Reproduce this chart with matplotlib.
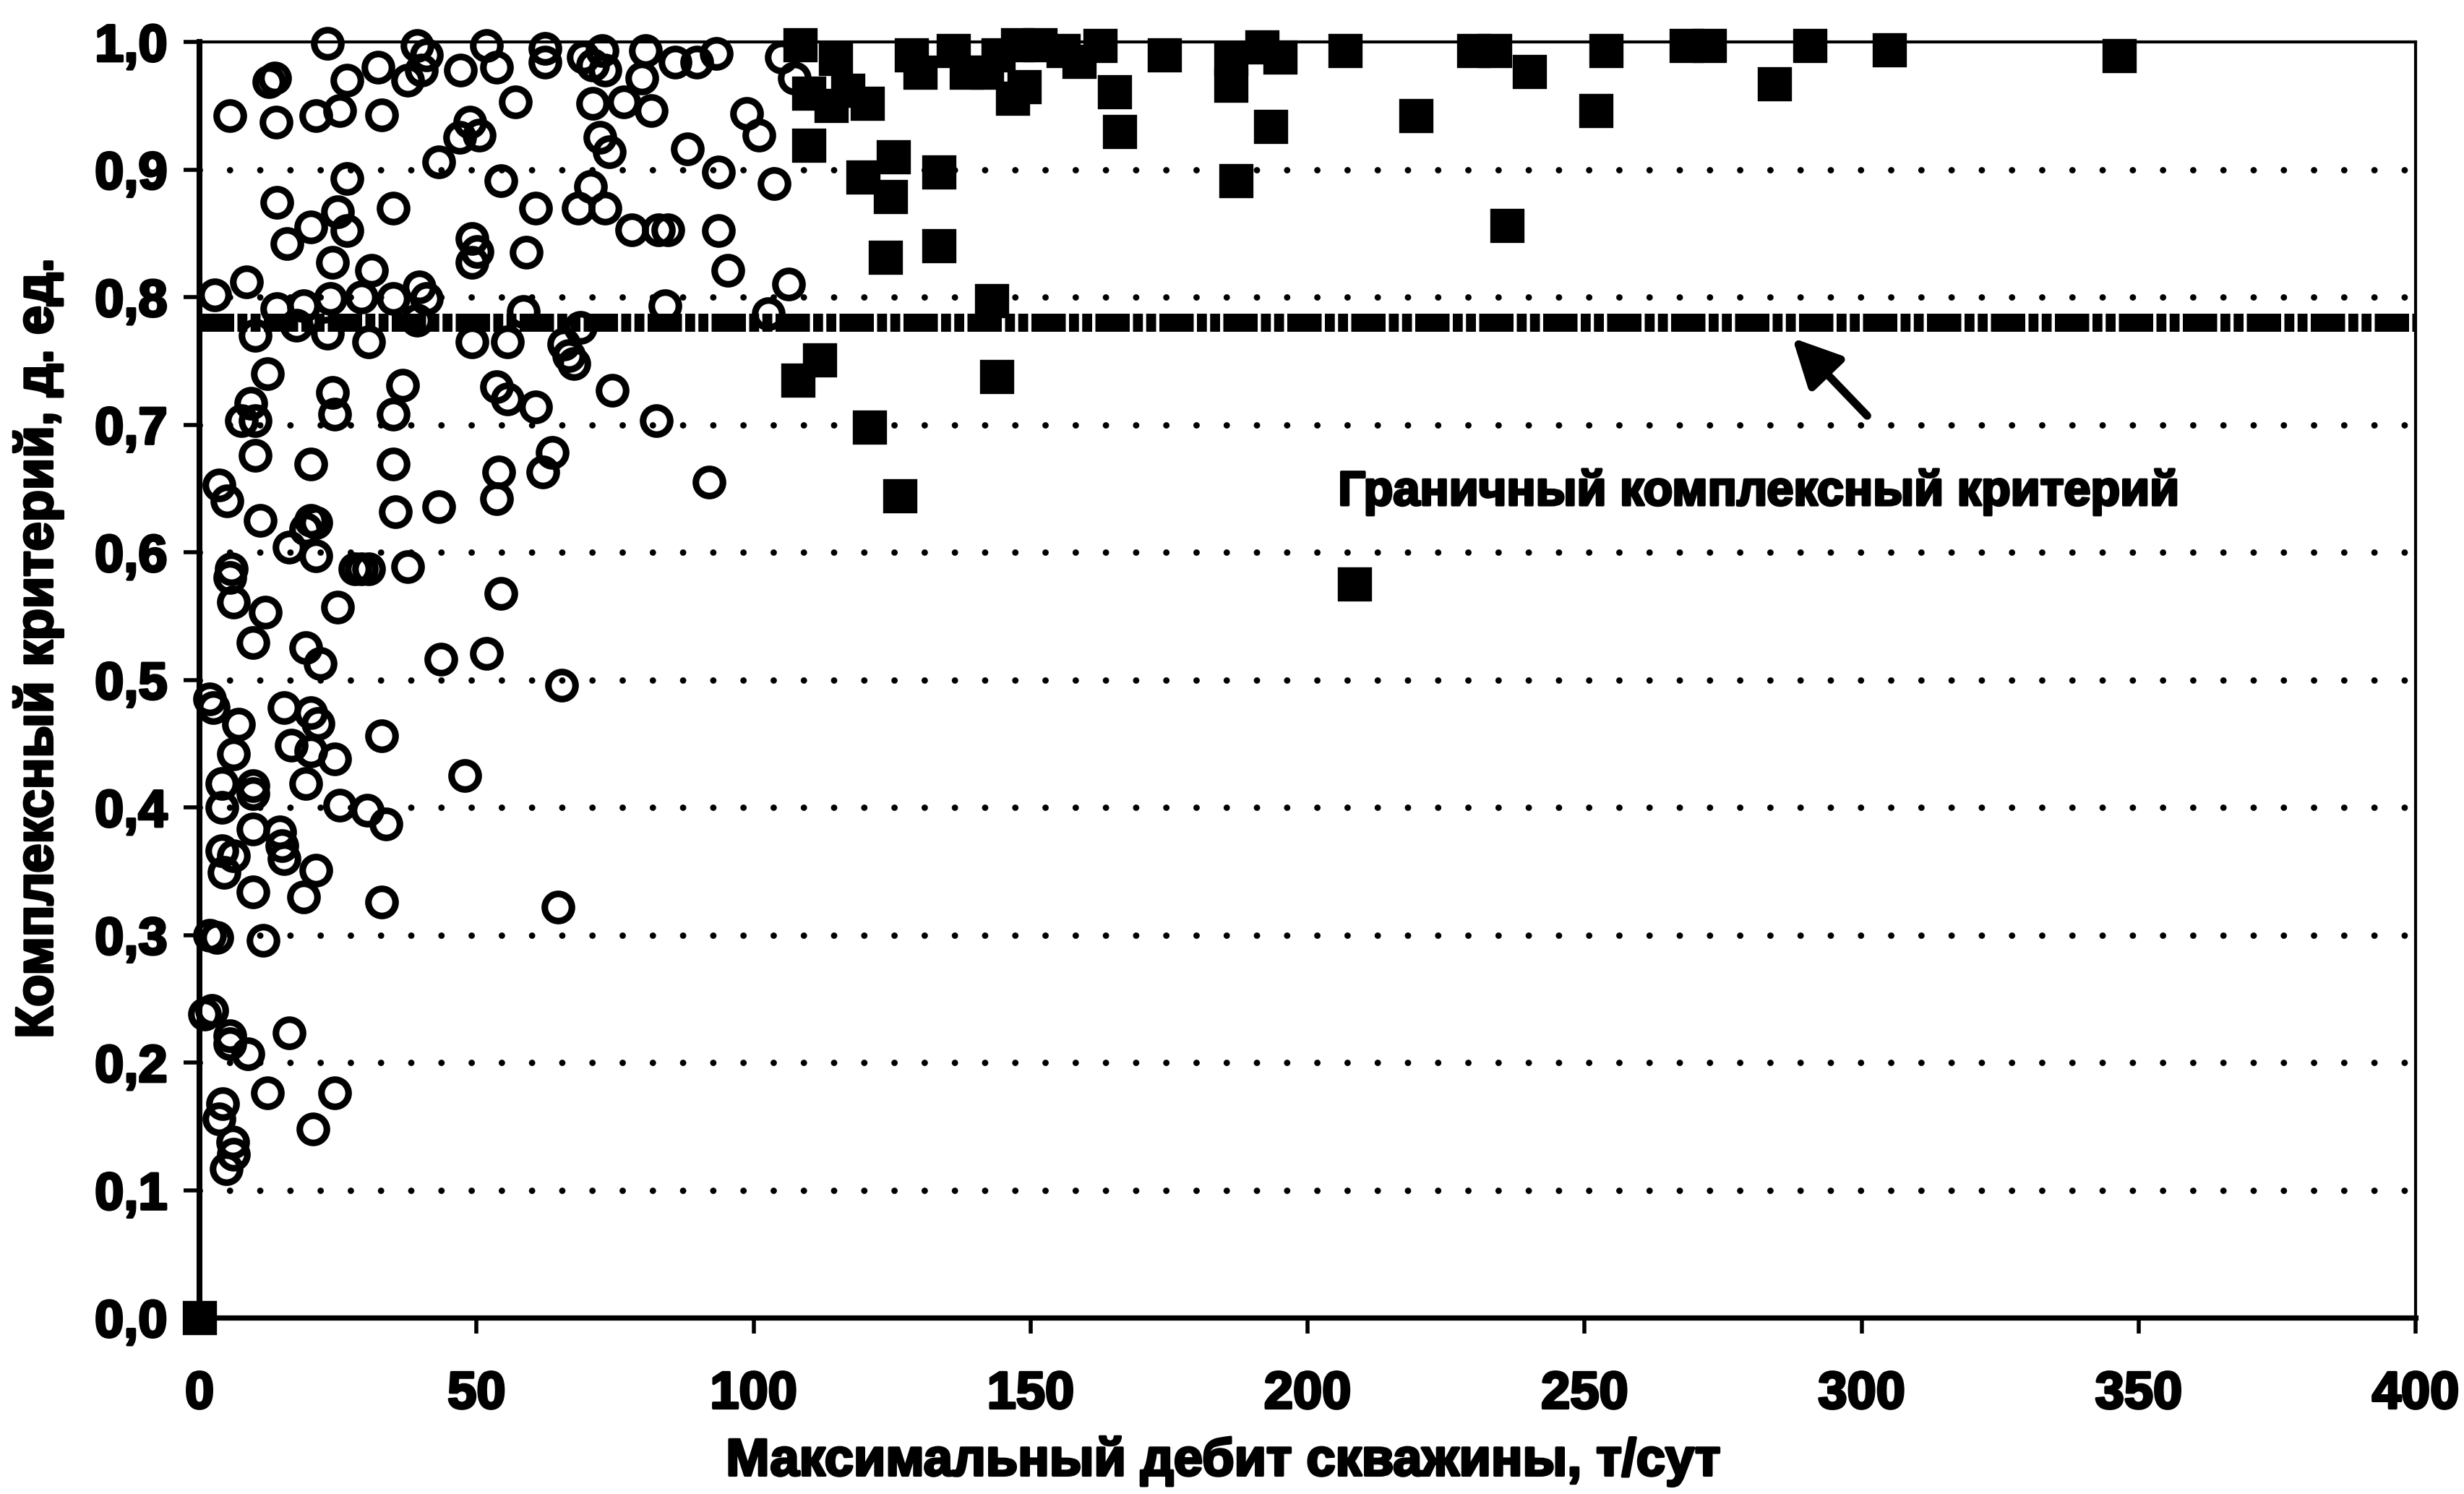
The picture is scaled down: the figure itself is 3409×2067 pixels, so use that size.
import matplotlib
matplotlib.use("Agg")
import matplotlib.pyplot as plt
import matplotlib.patheffects as pe

plt.rcParams['font.family'] = ['Liberation Sans', 'DejaVu Sans']
plt.rcParams['font.weight'] = 'bold'

# circles: wells below / around the boundary (max rate, criterion)
circle_x = [23.1, 26.6, 32.2, 39.3, 37.5, 41, 40, 47.1, 51.8, 53.6, 12.5, 13.6, 5.5, 13.8, 21,
            25.3, 32.9, 48.8, 50.5, 47, 43.2, 26.6, 14, 34.9, 24.9, 20.1, 26.6, 15.8, 49.2,
            50.1, 49.2, 24, 31, 8.4, 2.7, 14, 18.8, 23.6, 29.2, 34.9, 39.7, 41, 39.3, 10, 17.5,
            23.1, 30.5, 49.2, 55.5,
            62.3, 62.3, 69.3, 72.7, 73.2, 71, 80.5, 79.8, 85.8, 89.7, 93.2, 57, 71, 76.6, 81.5,
            98.8, 101, 72.3, 74, 88, 93.6, 103.7, 54.4, 60.6, 70.6, 68.4, 73.2, 78, 82.8, 84.5,
            93.6, 58.9, 95.4, 106.3, 84, 58.4, 102.7, 68.8, 65.8, 105, 107.4,
            12.3, 24, 24.4, 36.7, 34.9, 9.3, 7.5, 10, 53.6, 55.5, 10, 20.1, 34.9, 54, 3.5, 4.9,
            11, 20.1, 21, 19.2, 35.4, 43.2, 53.6, 16.2, 21, 28, 29.2, 30.5, 37.5, 5.7, 5.4, 6.1,
            11.9, 24.9, 54.4, 9.7, 19.2, 21.8, 43.6, 51.8,
            66.7, 67.5, 74.5, 82.4, 60.6, 63.6, 61.9, 91.9, 65.4,
            1.8, 2.5, 7, 6.1, 15.3, 20.1, 21.4, 16.6, 20.1, 24.4, 19.2, 32.8, 47.9, 4, 9.7, 9.7,
            4, 25.3, 30.2, 33.6, 9.7, 14.5, 14.9, 15.3, 4, 6.1, 4.4, 21, 9.7, 18.8, 32.8, 1.8,
            3.1, 11.4, 64.7,
            2.2, 0.9, 5.4, 5.4, 8.7, 16.2, 12.3, 24.4, 20.5, 4.2, 3.5, 6, 6.1, 4.8]
circle_y = [0.999, 0.97, 0.98, 0.997, 0.97, 0.99, 0.978, 0.978, 0.997, 0.98, 0.969, 0.972, 0.942,
            0.937, 0.942, 0.946, 0.943, 0.937, 0.927, 0.925, 0.906, 0.893, 0.874, 0.87, 0.867,
            0.855, 0.852, 0.842, 0.846, 0.836, 0.827, 0.827, 0.821, 0.812, 0.802, 0.791, 0.793,
            0.799, 0.8, 0.799, 0.808, 0.799, 0.782, 0.77, 0.778, 0.772, 0.765, 0.765, 0.765,
            0.995, 0.984, 0.988, 0.993, 0.978, 0.982, 0.993, 0.972, 0.984, 0.984, 0.991, 0.953,
            0.952, 0.953, 0.946, 0.944, 0.927, 0.925, 0.914, 0.916, 0.898, 0.889, 0.891, 0.87,
            0.887, 0.87, 0.87, 0.853, 0.853, 0.853, 0.852, 0.835, 0.821, 0.81, 0.793, 0.789,
            0.787, 0.776, 0.763, 0.988, 0.972,
            0.74, 0.725, 0.708, 0.731, 0.708, 0.717, 0.703, 0.703, 0.73, 0.72, 0.676, 0.669,
            0.669, 0.663, 0.653, 0.64, 0.625, 0.625, 0.623, 0.618, 0.632, 0.636, 0.642, 0.604,
            0.597, 0.587, 0.587, 0.587, 0.589, 0.587, 0.58, 0.561, 0.553, 0.557, 0.568, 0.529,
            0.525, 0.513, 0.516, 0.521,
            0.754, 0.748, 0.727, 0.703, 0.714, 0.678, 0.663, 0.655, 0.496,
            0.485, 0.478, 0.465, 0.442, 0.478, 0.474, 0.466, 0.449, 0.444, 0.438, 0.419, 0.456,
            0.425, 0.419, 0.417, 0.411, 0.4, 0.402, 0.398, 0.387, 0.383, 0.381, 0.37, 0.36,
            0.366, 0.362, 0.349, 0.351, 0.334, 0.33, 0.326, 0.3, 0.298, 0.296, 0.322,
            0.241, 0.238, 0.221, 0.215, 0.207, 0.223, 0.176, 0.176, 0.148, 0.168, 0.156, 0.138,
            0.128, 0.117]

# squares: high-rate wells
square_x = [0, 108.4, 114.8, 110, 114, 117, 120.5, 110, 125.2, 119.7, 124.7, 133.4, 123.8, 133.4,
            143, 111.9, 108, 143.9, 120.9, 126.4, 128.5, 130, 136, 138.4, 142, 146.8, 144.1,
            147.7, 151.7, 155.9, 162.5, 148.8, 158.8, 165.2, 166, 174.2, 186.2, 186.2, 187,
            191.8, 195, 193.3, 206.7, 219.6, 236, 230, 233.8, 240, 253.8, 252, 268.3, 272.5,
            284.2, 290.7, 305, 346.5, 208.4]
square_y = [0, 0.998, 0.987, 0.96, 0.95, 0.962, 0.952, 0.919, 0.91, 0.894, 0.879, 0.898, 0.831,
            0.84, 0.797, 0.751, 0.735, 0.738, 0.698, 0.644, 0.99, 0.976, 0.993, 0.976, 0.976,
            0.956, 0.99, 0.998, 0.998, 0.993, 0.997, 0.965, 0.985, 0.961, 0.93, 0.99, 0.987,
            0.966, 0.891, 0.996, 0.988, 0.934, 0.993, 0.942, 0.856, 0.993, 0.993, 0.977, 0.993,
            0.946, 0.997, 0.997, 0.967, 0.997, 0.994, 0.989, 0.575]

threshold = 0.78
grid_levels = [0.1, 0.2, 0.3, 0.4, 0.5, 0.6, 0.7, 0.8, 0.9]
x_ticks = [0, 50, 100, 150, 200, 250, 300, 350, 400]
y_ticks = [0, 0.1, 0.2, 0.3, 0.4, 0.5, 0.6, 0.7, 0.8, 0.9, 1.0]
y_tick_labels = ['0,0', '0,1', '0,2', '0,3', '0,4', '0,5', '0,6', '0,7', '0,8', '0,9', '1,0']

heavy = [pe.withStroke(linewidth=1.3, foreground='black')]

fig = plt.figure(figsize=(3409 / 200, 2067 / 200), dpi=200)
ax = fig.add_axes([0.081, 0.118, 0.8994, 0.8539])

for g in grid_levels:
    ax.axhline(g, color='black', lw=3.2, linestyle=(0, (0.001, 4.7)),
               dash_capstyle='round', zorder=1)

ax.axhline(threshold, color='black', lw=9,
           linestyle=(0, (1.9, 0.18, 0.55, 0.18, 0.55, 0.18)),
           dash_capstyle='butt', zorder=2)

ax.plot(circle_x, circle_y, 'o', ms=13.5, mfc='none', mec='black', mew=3.3,
        clip_on=False, zorder=3)
ax.plot(square_x, square_y, 's', ms=15.5, mfc='black', mec='black', mew=1.2,
        clip_on=False, zorder=4)

ax.annotate('', xy=(287.5, 0.768), xytext=(301, 0.707),
            arrowprops=dict(arrowstyle='-|>', lw=4, color='black', mutation_scale=50,
                            shrinkA=0, shrinkB=0))
ax.text(205.5, 0.637, 'Граничный комплексный критерий', fontsize=24,
        fontweight='bold', ha='left', va='baseline', path_effects=heavy)

ax.set_xlim(0, 400)
ax.set_ylim(0, 1)
ax.set_xticks(x_ticks)
ax.set_yticks(y_ticks)
ax.set_yticklabels(y_tick_labels)

ax.spines['left'].set_linewidth(2.9)
ax.spines['bottom'].set_linewidth(2.6)
ax.spines['top'].set_linewidth(1.5)
ax.spines['right'].set_linewidth(1.5)

ax.tick_params(axis='y', direction='out', length=8, width=2, pad=8, labelsize=26)
ax.tick_params(axis='x', direction='out', length=8, width=2, pad=18, labelsize=26)
for lbl in ax.get_xticklabels() + ax.get_yticklabels():
    lbl.set_path_effects(heavy)

ax.set_xlabel('Максимальный дебит скважины, т/сут', fontsize=26, fontweight='bold',
              path_effects=heavy)
ax.set_ylabel('Комплексный критерий, д. ед.', fontsize=26, fontweight='bold',
              path_effects=heavy)
ax.xaxis.set_label_coords(0.462, -0.093)
ax.yaxis.set_label_coords(-0.0616, 0.525)

fig.savefig('out.png', dpi=200, facecolor='white')
